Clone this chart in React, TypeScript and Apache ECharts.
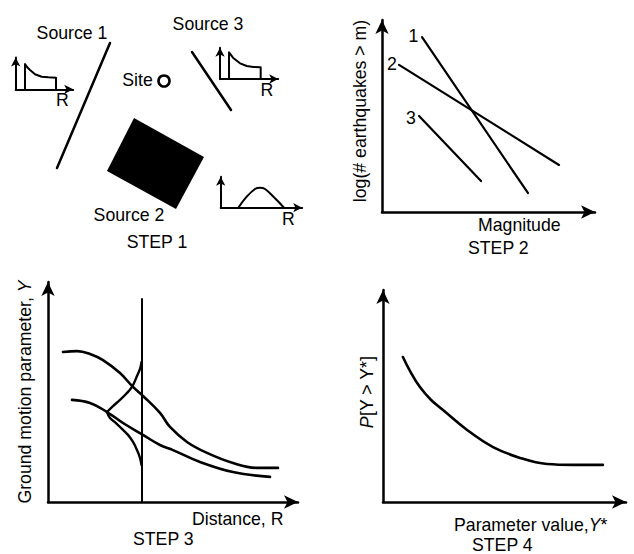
import React, { useEffect, useRef } from "react";
import * as echarts from "echarts";

const FONT = '"Liberation Sans", Arial, Helvetica, sans-serif';
const FS = 17.7;

// ---------- STEP 1 : source map (map units) ----------
const source1Fault = [[110, 43], [57, 168]];
const source3Fault = [[192, 52], [231, 110]];
const source2Area = [[134, 118], [204, 157], [176, 209], [107, 171]];
const sitePoint = [[164, 81]];
// distance densities (small sketches)
const source1Density = [[16.2, 0], [16.2, 79.6], [19.7, 70], [24.9, 60.7], [33.6, 47.2], [45.2, 39.6], [56.7, 37.7], [70.1, 36.5], [70.1, 0]];
const source3Density = [[15.5, 0], [15.5, 85.6], [22.3, 68.3], [34.4, 50.3], [45.9, 41.7], [57.2, 38.5], [69.9, 37.5], [69.9, 0]];
const source2Density = [[21.6, 0], [31.9, 35.6], [42.1, 60.5], [48.2, 64.7], [54.4, 60.5], [66.6, 30.4], [77.7, 0]];

// ---------- STEP 2 : recurrence lines ----------
const recurrence1 = [[18.8, 91.1], [68.5, 9.9]];
const recurrence2 = [[8.0, 76.6], [83.1, 24.5]];
const recurrence3 = [[17.4, 50.0], [46.5, 16.1]];
const recurrenceNames = ["1", "2", "3"];

// ---------- STEP 3 : attenuation ----------
const attenUpper = [[6.0, 68.2], [11.6, 68.6], [16.8, 67.3], [22.0, 64.5], [28.8, 58.6], [34.0, 52.3], [38.0, 48.2], [44.8, 40.5], [48.8, 34.1], [55.6, 27.3], [63.6, 22.3], [74.0, 17.7], [83.6, 15.5], [92.0, 15.5]];
const attenLower = [[9.6, 46.4], [16.8, 45.0], [23.6, 40.9], [30.0, 35.9], [38.0, 30.5], [44.8, 25.9], [50.0, 23.6], [60.8, 18.2], [74.0, 13.6], [88.8, 11.4]];
const distanceMarker = [[37.6, 0], [37.6, 92.3]];
const pdfUpper = [[37.4, 63.6], [36.8, 60.5], [35.6, 57.3], [33.6, 52.3], [31.2, 49.1], [28.8, 46.4], [26.0, 43.6], [23.6, 40.9]];
const pdfLower = [[23.6, 40.9], [24.8, 38.2], [27.2, 35.9], [29.6, 33.2], [32.0, 30.5], [34.0, 27.3], [35.6, 23.6], [36.8, 20.0], [37.4, 16.8]];

// ---------- STEP 4 : hazard curve ----------
const hazardCurve = [[8.2, 68.4], [11.1, 61.8], [15.2, 54.2], [19.8, 48.1], [24.7, 43.4], [34.6, 34.0], [45.3, 25.9], [56.4, 20.8], [67.5, 17.9], [78.2, 17.5], [90.5, 17.5]];

// ---------- texts ----------
const sourceLabels = ["Source 1", "Source 2", "Source 3"];
const siteLabel = "Site";
const stepLabels = ["STEP 1", "STEP 2", "STEP 3", "STEP 4"];
const axisTitles = {
  magnitude: "Magnitude",
  logN: "log(# earthquakes > m)",
  distance: "Distance, R",
  groundMotion: "Ground motion parameter, {i|Y}",
  paramValue: "Parameter value,{i|Y}*",
  prob: "{i|P}[Y > Y*]",
};

function axes(gridIndex: number, show: boolean, arrow: number[], width: number, maxX = 100, maxY = 100, inverseY = false) {
  const line = {
    show,
    onZero: false,
    symbol: ["none", "arrow"],
    symbolSize: arrow,
    lineStyle: { color: "#000", width },
  };
  const common = {
    type: "value",
    gridIndex,
    min: 0,
    axisTick: { show: false },
    axisLabel: { show: false },
    splitLine: { show: false },
  };
  return {
    x: { ...common, max: maxX, axisLine: line },
    y: { ...common, max: maxY, inverse: inverseY, axisLine: line },
  };
}

function lineSeries(idx: number, data: number[][], width: number, smooth: number | boolean = false) {
  return {
    type: "line",
    xAxisIndex: idx,
    yAxisIndex: idx,
    data,
    smooth,
    showSymbol: false,
    symbol: "none",
    silent: true,
    clip: false,
    lineStyle: { color: "#000", width, cap: "round", join: "round" },
  };
}

function txt(text: string, x: number, y: number, align = "center", rotation = 0) {
  return {
    type: "text",
    x,
    y,
    rotation,
    silent: true,
    style: {
      text,
      x: 0,
      y: 0,
      fill: "#000",
      fontSize: FS,
      fontFamily: FONT,
      align,
      verticalAlign: "middle",
      textAlign: align,
      textVerticalAlign: "middle",
      rich: {
        i: { fontStyle: "italic", fontSize: FS, fontFamily: FONT, fill: "#000" },
      },
    },
  };
}

export default function App() {
  const ref = useRef<HTMLDivElement>(null);
  useEffect(() => {
    if (!ref.current) return;
    const chart = echarts.init(ref.current, null, { renderer: "svg" });
    const a0 = axes(0, false, [1, 1], 1, 317, 260, true);
    const a1 = axes(1, true, [7, 9], 2);
    const a2 = axes(2, true, [7, 9], 2);
    const a3 = axes(3, true, [7, 9], 2);
    const a4 = axes(4, true, [10, 14], 2.5);
    const a5 = axes(5, true, [10, 14], 2.5);
    const a6 = axes(6, true, [10, 14], 2.5);
    const all = [a0, a1, a2, a3, a4, a5, a6];
    const option: any = {
      animation: false,
      backgroundColor: "#fff",
      grid: [
        { left: 0, top: 0, width: 317, height: 260 },
        { left: 15.7, top: 57.5, width: 57.5, height: 31.8 },
        { left: 220, top: 47.8, width: 58.2, height: 31.2 },
        { left: 220.7, top: 176.8, width: 81.5, height: 30.9 },
        { left: 382, top: 20, width: 213, height: 192 },
        { left: 48, top: 282, width: 250, height: 220 },
        { left: 383, top: 290, width: 243, height: 212 },
      ].map((g) => ({ ...g, outerBoundsMode: "none", containLabel: false })),
      xAxis: all.map((a) => a.x),
      yAxis: all.map((a) => a.y),
      series: [
        lineSeries(0, source1Fault, 2.5),
        lineSeries(0, source3Fault, 2.5),
        {
          type: "custom",
          xAxisIndex: 0,
          yAxisIndex: 0,
          data: source2Area,
          silent: true,
          renderItem: (params: any, api: any) =>
            params.dataIndex === 0
              ? {
                  type: "polygon",
                  shape: { points: source2Area.map((p) => api.coord(p)) },
                  style: { fill: "#000" },
                }
              : null,
        },
        {
          type: "scatter",
          xAxisIndex: 0,
          yAxisIndex: 0,
          data: sitePoint,
          symbol: "circle",
          symbolSize: 11,
          silent: true,
          itemStyle: { color: "#fff", borderColor: "#000", borderWidth: 2.6, opacity: 1 },
        },
        lineSeries(1, source1Density, 2),
        lineSeries(2, source3Density, 2),
        lineSeries(3, source2Density, 2, 0.4),
        lineSeries(4, recurrence1, 2.2),
        lineSeries(4, recurrence2, 2.2),
        lineSeries(4, recurrence3, 2.2),
        lineSeries(5, attenUpper, 2.6, 0.4),
        lineSeries(5, attenLower, 2.6, 0.4),
        lineSeries(5, pdfUpper, 2.4, 0.4),
        lineSeries(5, pdfLower, 2.4, 0.4),
        lineSeries(5, distanceMarker, 2),
        lineSeries(6, hazardCurve, 2.6, 0.4),
      ],
      graphic: [
        txt(sourceLabels[0], 72, 33),
        txt(sourceLabels[2], 208, 24),
        txt(sourceLabels[1], 129, 215),
        txt(siteLabel, 137.5, 80),
        txt("R", 62.5, 99.5),
        txt("R", 267, 89.5),
        txt("R", 288.5, 219),
        txt(stepLabels[0], 157, 242),
        txt(recurrenceNames[0], 413.5, 35.5),
        txt(recurrenceNames[1], 392, 64),
        txt(recurrenceNames[2], 411, 117.5),
        txt(axisTitles.magnitude, 478, 225, "left"),
        txt(stepLabels[1], 468, 248, "left"),
        txt(axisTitles.logN, 360, 111, "center", Math.PI / 2),
        txt(axisTitles.groundMotion, 25, 392, "center", Math.PI / 2),
        txt(axisTitles.distance, 192, 519, "left"),
        txt(stepLabels[2], 133, 539, "left"),
        txt(axisTitles.prob, 367, 392, "center", Math.PI / 2),
        txt(axisTitles.paramValue, 454, 525, "left"),
        txt(stepLabels[3], 472, 545, "left"),
      ],
    };
    chart.setOption(option);
    return () => chart.dispose();
  }, []);
  return (
    <div
      ref={ref}
      style={{ position: "fixed", left: 0, top: 0, width: 634, height: 554, background: "#fff" }}
    />
  );
}
